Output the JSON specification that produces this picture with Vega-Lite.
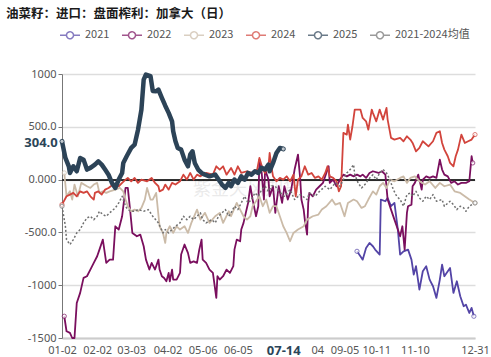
{
  "$schema": "https://vega.github.io/schema/vega-lite/v6.json",
  "width": 413,
  "height": 264,
  "autosize": "none",
  "padding": {"left": 62, "top": 74, "right": 16, "bottom": 19},
  "background": "white",
  "title": {"text": "油菜籽：进口：盘面榨利：加拿大（日）", "anchor": "start", "frame": "group", "dx": -56, "offset": 4, "font": "Noto Sans CJK SC", "fontSize": 12.5, "fontWeight": "bold", "color": "#1a1a1a"},
  "config": {"view": {"stroke": null}},
  "data": {"values": [
    {"s":"2021","d":262,"v":-679},{"s":"2021","d":265,"v":-726},{"s":"2021","d":267,"v":-758},{"s":"2021","d":270,"v":-647},{"s":"2021","d":273,"v":-600},{"s":"2021","d":276,"v":-631},{"s":"2021","d":278,"v":-663},{"s":"2021","d":282,"v":-710},{"s":"2021","d":283,"v":-189},{"s":"2021","d":287,"v":-205},{"s":"2021","d":289,"v":-174},{"s":"2021","d":292,"v":-252},{"s":"2021","d":295,"v":-221},{"s":"2021","d":298,"v":-473},{"s":"2021","d":300,"v":-710},{"s":"2021","d":303,"v":-679},{"s":"2021","d":307,"v":-663},{"s":"2021","d":310,"v":-758},{"s":"2021","d":312,"v":-900},{"s":"2021","d":314,"v":-820},{"s":"2021","d":317,"v":-1041},{"s":"2021","d":320,"v":-868},{"s":"2021","d":323,"v":-820},{"s":"2021","d":326,"v":-947},{"s":"2021","d":329,"v":-1010},{"s":"2021","d":332,"v":-1120},{"s":"2021","d":335,"v":-947},{"s":"2021","d":337,"v":-805},{"s":"2021","d":339,"v":-915},{"s":"2021","d":344,"v":-836},{"s":"2021","d":347,"v":-1073},{"s":"2021","d":350,"v":-963},{"s":"2021","d":353,"v":-1105},{"s":"2021","d":356,"v":-1199},{"s":"2021","d":358,"v":-1184},{"s":"2021","d":361,"v":-1263},{"s":"2021","d":363,"v":-1215},{"s":"2021","d":365,"v":-1294},
    {"s":"2022","d":4,"v":-1294},{"s":"2022","d":6,"v":-1436},{"s":"2022","d":9,"v":-1452},{"s":"2022","d":11,"v":-1500},{"s":"2022","d":13,"v":-1500},{"s":"2022","d":15,"v":-1168},{"s":"2022","d":18,"v":-1073},{"s":"2022","d":21,"v":-931},{"s":"2022","d":24,"v":-915},{"s":"2022","d":27,"v":-852},{"s":"2022","d":30,"v":-789},{"s":"2022","d":33,"v":-726},{"s":"2022","d":35,"v":-663},{"s":"2022","d":38,"v":-568},{"s":"2022","d":41,"v":-789},{"s":"2022","d":44,"v":-758},{"s":"2022","d":47,"v":-758},{"s":"2022","d":49,"v":-442},{"s":"2022","d":52,"v":-473},{"s":"2022","d":55,"v":-347},{"s":"2022","d":58,"v":-79},{"s":"2022","d":60,"v":-79},{"s":"2022","d":62,"v":-284},{"s":"2022","d":64,"v":-505},{"s":"2022","d":68,"v":-537},{"s":"2022","d":71,"v":-521},{"s":"2022","d":74,"v":-631},{"s":"2022","d":76,"v":-758},{"s":"2022","d":79,"v":-852},{"s":"2022","d":81,"v":-789},{"s":"2022","d":84,"v":-852},{"s":"2022","d":87,"v":-758},{"s":"2022","d":88,"v":-852},{"s":"2022","d":90,"v":-915},{"s":"2022","d":92,"v":-931},{"s":"2022","d":94,"v":-963},{"s":"2022","d":96,"v":-884},{"s":"2022","d":97,"v":-963},{"s":"2022","d":99,"v":-852},{"s":"2022","d":100,"v":-947},{"s":"2022","d":103,"v":-947},{"s":"2022","d":106,"v":-884},{"s":"2022","d":107,"v":-710},{"s":"2022","d":110,"v":-615},{"s":"2022","d":113,"v":-694},{"s":"2022","d":115,"v":-789},{"s":"2022","d":118,"v":-774},{"s":"2022","d":121,"v":-789},{"s":"2022","d":123,"v":-663},{"s":"2022","d":125,"v":-568},{"s":"2022","d":126,"v":-758},{"s":"2022","d":129,"v":-789},{"s":"2022","d":132,"v":-852},{"s":"2022","d":135,"v":-884},{"s":"2022","d":138,"v":-1120},{"s":"2022","d":139,"v":-915},{"s":"2022","d":141,"v":-947},{"s":"2022","d":144,"v":-915},{"s":"2022","d":147,"v":-852},{"s":"2022","d":150,"v":-884},{"s":"2022","d":153,"v":-820},{"s":"2022","d":154,"v":-663},{"s":"2022","d":156,"v":-568},{"s":"2022","d":159,"v":-584},{"s":"2022","d":160,"v":-473},{"s":"2022","d":162,"v":-410},{"s":"2022","d":164,"v":-315},{"s":"2022","d":166,"v":-221},{"s":"2022","d":168,"v":-63},{"s":"2022","d":170,"v":-189},{"s":"2022","d":173,"v":-347},{"s":"2022","d":175,"v":-252},{"s":"2022","d":176,"v":189},{"s":"2022","d":178,"v":63},{"s":"2022","d":180,"v":-189},{"s":"2022","d":181,"v":95},{"s":"2022","d":184,"v":0},{"s":"2022","d":185,"v":-158},{"s":"2022","d":188,"v":-63},{"s":"2022","d":190,"v":-315},{"s":"2022","d":193,"v":-63},{"s":"2022","d":196,"v":-221},{"s":"2022","d":198,"v":-63},{"s":"2022","d":201,"v":-189},{"s":"2022","d":204,"v":-95},{"s":"2022","d":207,"v":95},{"s":"2022","d":210,"v":237},{"s":"2022","d":212,"v":0},{"s":"2022","d":213,"v":-189},{"s":"2022","d":215,"v":-284},{"s":"2022","d":216,"v":-379},{"s":"2022","d":218,"v":-521},{"s":"2022","d":219,"v":-221},{"s":"2022","d":220,"v":-126},{"s":"2022","d":223,"v":-158},{"s":"2022","d":226,"v":-95},{"s":"2022","d":229,"v":-63},{"s":"2022","d":232,"v":-31},{"s":"2022","d":235,"v":63},{"s":"2022","d":237,"v":126},{"s":"2022","d":238,"v":-31},{"s":"2022","d":241,"v":0},{"s":"2022","d":244,"v":-63},{"s":"2022","d":247,"v":0},{"s":"2022","d":250,"v":47},{"s":"2022","d":253,"v":31},{"s":"2022","d":256,"v":47},{"s":"2022","d":259,"v":31},{"s":"2022","d":262,"v":47},{"s":"2022","d":265,"v":31},{"s":"2022","d":267,"v":47},{"s":"2022","d":270,"v":16},{"s":"2022","d":273,"v":63},{"s":"2022","d":276,"v":79},{"s":"2022","d":281,"v":63},{"s":"2022","d":284,"v":79},{"s":"2022","d":287,"v":47},{"s":"2022","d":289,"v":-189},{"s":"2022","d":292,"v":-284},{"s":"2022","d":295,"v":-379},{"s":"2022","d":297,"v":-442},{"s":"2022","d":298,"v":-473},{"s":"2022","d":300,"v":-537},{"s":"2022","d":302,"v":-442},{"s":"2022","d":304,"v":-663},{"s":"2022","d":306,"v":-315},{"s":"2022","d":307,"v":-252},{"s":"2022","d":310,"v":-237},{"s":"2022","d":311,"v":-63},{"s":"2022","d":313,"v":-31},{"s":"2022","d":316,"v":47},{"s":"2022","d":319,"v":-95},{"s":"2022","d":320,"v":0},{"s":"2022","d":323,"v":31},{"s":"2022","d":326,"v":16},{"s":"2022","d":329,"v":31},{"s":"2022","d":332,"v":16},{"s":"2022","d":335,"v":189},{"s":"2022","d":337,"v":95},{"s":"2022","d":339,"v":47},{"s":"2022","d":342,"v":31},{"s":"2022","d":345,"v":-31},{"s":"2022","d":348,"v":-16},{"s":"2022","d":351,"v":-47},{"s":"2022","d":354,"v":-31},{"s":"2022","d":358,"v":-31},{"s":"2022","d":361,"v":-16},{"s":"2022","d":363,"v":221},{"s":"2022","d":364,"v":158},
    {"s":"2023","d":4,"v":63},{"s":"2023","d":6,"v":-158},{"s":"2023","d":9,"v":-111},{"s":"2023","d":11,"v":-189},{"s":"2023","d":13,"v":-47},{"s":"2023","d":16,"v":-158},{"s":"2023","d":19,"v":-31},{"s":"2023","d":24,"v":-63},{"s":"2023","d":27,"v":-79},{"s":"2023","d":30,"v":-47},{"s":"2023","d":33,"v":-31},{"s":"2023","d":35,"v":-126},{"s":"2023","d":38,"v":-111},{"s":"2023","d":41,"v":-126},{"s":"2023","d":44,"v":-111},{"s":"2023","d":49,"v":-95},{"s":"2023","d":53,"v":-79},{"s":"2023","d":56,"v":-111},{"s":"2023","d":58,"v":-189},{"s":"2023","d":60,"v":-252},{"s":"2023","d":63,"v":-300},{"s":"2023","d":66,"v":-284},{"s":"2023","d":69,"v":-300},{"s":"2023","d":72,"v":-268},{"s":"2023","d":75,"v":-189},{"s":"2023","d":77,"v":-79},{"s":"2023","d":80,"v":-189},{"s":"2023","d":82,"v":-189},{"s":"2023","d":85,"v":-126},{"s":"2023","d":88,"v":-442},{"s":"2023","d":91,"v":-505},{"s":"2023","d":93,"v":-600},{"s":"2023","d":94,"v":-505},{"s":"2023","d":97,"v":-442},{"s":"2023","d":100,"v":-505},{"s":"2023","d":103,"v":-442},{"s":"2023","d":106,"v":-473},{"s":"2023","d":110,"v":-442},{"s":"2023","d":113,"v":-505},{"s":"2023","d":116,"v":-410},{"s":"2023","d":121,"v":-284},{"s":"2023","d":124,"v":-379},{"s":"2023","d":128,"v":-315},{"s":"2023","d":132,"v":-410},{"s":"2023","d":137,"v":-347},{"s":"2023","d":141,"v":-315},{"s":"2023","d":144,"v":-410},{"s":"2023","d":149,"v":-300},{"s":"2023","d":151,"v":-347},{"s":"2023","d":156,"v":-221},{"s":"2023","d":159,"v":-284},{"s":"2023","d":162,"v":-347},{"s":"2023","d":165,"v":-379},{"s":"2023","d":168,"v":-347},{"s":"2023","d":170,"v":-252},{"s":"2023","d":174,"v":-189},{"s":"2023","d":176,"v":-158},{"s":"2023","d":179,"v":-252},{"s":"2023","d":182,"v":-189},{"s":"2023","d":185,"v":-315},{"s":"2023","d":188,"v":-252},{"s":"2023","d":191,"v":-252},{"s":"2023","d":194,"v":-347},{"s":"2023","d":197,"v":-442},{"s":"2023","d":200,"v":-505},{"s":"2023","d":203,"v":-584},{"s":"2023","d":206,"v":-505},{"s":"2023","d":210,"v":-473},{"s":"2023","d":215,"v":-442},{"s":"2023","d":218,"v":-379},{"s":"2023","d":223,"v":-347},{"s":"2023","d":228,"v":-331},{"s":"2023","d":231,"v":-284},{"s":"2023","d":235,"v":-252},{"s":"2023","d":240,"v":-189},{"s":"2023","d":243,"v":-237},{"s":"2023","d":247,"v":-221},{"s":"2023","d":251,"v":-347},{"s":"2023","d":254,"v":-221},{"s":"2023","d":259,"v":-189},{"s":"2023","d":262,"v":-205},{"s":"2023","d":266,"v":-268},{"s":"2023","d":269,"v":-252},{"s":"2023","d":272,"v":-189},{"s":"2023","d":276,"v":-111},{"s":"2023","d":279,"v":-142},{"s":"2023","d":282,"v":-63},{"s":"2023","d":285,"v":-31},{"s":"2023","d":288,"v":-79},{"s":"2023","d":291,"v":0},{"s":"2023","d":295,"v":-16},{"s":"2023","d":300,"v":16},{"s":"2023","d":303,"v":31},{"s":"2023","d":306,"v":-31},{"s":"2023","d":309,"v":16},{"s":"2023","d":313,"v":31},{"s":"2023","d":317,"v":-16},{"s":"2023","d":322,"v":-47},{"s":"2023","d":326,"v":-16},{"s":"2023","d":331,"v":-79},{"s":"2023","d":335,"v":-31},{"s":"2023","d":339,"v":-63},{"s":"2023","d":344,"v":-47},{"s":"2023","d":348,"v":-111},{"s":"2023","d":353,"v":-126},{"s":"2023","d":357,"v":-158},{"s":"2023","d":361,"v":-189},{"s":"2023","d":366,"v":-221},
    {"s":"2024","d":2,"v":-237},{"s":"2024","d":6,"v":-158},{"s":"2024","d":9,"v":-142},{"s":"2024","d":12,"v":-126},{"s":"2024","d":15,"v":-158},{"s":"2024","d":18,"v":-111},{"s":"2024","d":21,"v":-126},{"s":"2024","d":24,"v":-111},{"s":"2024","d":27,"v":-158},{"s":"2024","d":30,"v":-189},{"s":"2024","d":31,"v":-126},{"s":"2024","d":34,"v":-111},{"s":"2024","d":37,"v":-142},{"s":"2024","d":40,"v":-95},{"s":"2024","d":43,"v":-79},{"s":"2024","d":47,"v":-47},{"s":"2024","d":52,"v":-63},{"s":"2024","d":55,"v":-31},{"s":"2024","d":58,"v":0},{"s":"2024","d":60,"v":16},{"s":"2024","d":63,"v":-16},{"s":"2024","d":66,"v":16},{"s":"2024","d":69,"v":-31},{"s":"2024","d":72,"v":0},{"s":"2024","d":77,"v":-16},{"s":"2024","d":81,"v":16},{"s":"2024","d":84,"v":-31},{"s":"2024","d":87,"v":-63},{"s":"2024","d":88,"v":-111},{"s":"2024","d":91,"v":-95},{"s":"2024","d":93,"v":-47},{"s":"2024","d":96,"v":-95},{"s":"2024","d":99,"v":-31},{"s":"2024","d":102,"v":-47},{"s":"2024","d":106,"v":-16},{"s":"2024","d":109,"v":47},{"s":"2024","d":112,"v":0},{"s":"2024","d":115,"v":63},{"s":"2024","d":118,"v":0},{"s":"2024","d":121,"v":47},{"s":"2024","d":124,"v":31},{"s":"2024","d":129,"v":63},{"s":"2024","d":135,"v":47},{"s":"2024","d":138,"v":126},{"s":"2024","d":141,"v":95},{"s":"2024","d":144,"v":126},{"s":"2024","d":147,"v":47},{"s":"2024","d":151,"v":111},{"s":"2024","d":154,"v":47},{"s":"2024","d":157,"v":126},{"s":"2024","d":160,"v":63},{"s":"2024","d":165,"v":79},{"s":"2024","d":169,"v":63},{"s":"2024","d":174,"v":95},{"s":"2024","d":176,"v":205},{"s":"2024","d":179,"v":95},{"s":"2024","d":181,"v":63},{"s":"2024","d":184,"v":126},{"s":"2024","d":185,"v":252},{"s":"2024","d":187,"v":95},{"s":"2024","d":188,"v":31},{"s":"2024","d":191,"v":-16},{"s":"2024","d":194,"v":16},{"s":"2024","d":197,"v":0},{"s":"2024","d":200,"v":31},{"s":"2024","d":203,"v":-16},{"s":"2024","d":206,"v":47},{"s":"2024","d":208,"v":-158},{"s":"2024","d":210,"v":0},{"s":"2024","d":213,"v":31},{"s":"2024","d":216,"v":126},{"s":"2024","d":219,"v":47},{"s":"2024","d":222,"v":63},{"s":"2024","d":225,"v":16},{"s":"2024","d":228,"v":31},{"s":"2024","d":231,"v":0},{"s":"2024","d":234,"v":63},{"s":"2024","d":236,"v":126},{"s":"2024","d":238,"v":31},{"s":"2024","d":241,"v":16},{"s":"2024","d":244,"v":-16},{"s":"2024","d":246,"v":-111},{"s":"2024","d":248,"v":-63},{"s":"2024","d":250,"v":442},{"s":"2024","d":253,"v":426},{"s":"2024","d":254,"v":521},{"s":"2024","d":256,"v":379},{"s":"2024","d":258,"v":505},{"s":"2024","d":260,"v":663},{"s":"2024","d":265,"v":663},{"s":"2024","d":267,"v":584},{"s":"2024","d":270,"v":552},{"s":"2024","d":272,"v":473},{"s":"2024","d":275,"v":663},{"s":"2024","d":276,"v":632},{"s":"2024","d":279,"v":552},{"s":"2024","d":282,"v":663},{"s":"2024","d":285,"v":568},{"s":"2024","d":288,"v":679},{"s":"2024","d":289,"v":568},{"s":"2024","d":292,"v":395},{"s":"2024","d":295,"v":379},{"s":"2024","d":300,"v":395},{"s":"2024","d":303,"v":363},{"s":"2024","d":306,"v":410},{"s":"2024","d":309,"v":379},{"s":"2024","d":311,"v":347},{"s":"2024","d":314,"v":268},{"s":"2024","d":317,"v":300},{"s":"2024","d":320,"v":363},{"s":"2024","d":325,"v":315},{"s":"2024","d":329,"v":363},{"s":"2024","d":332,"v":442},{"s":"2024","d":335,"v":458},{"s":"2024","d":337,"v":347},{"s":"2024","d":339,"v":284},{"s":"2024","d":342,"v":221},{"s":"2024","d":344,"v":158},{"s":"2024","d":347,"v":126},{"s":"2024","d":349,"v":221},{"s":"2024","d":351,"v":284},{"s":"2024","d":354,"v":426},{"s":"2024","d":357,"v":347},{"s":"2024","d":360,"v":363},{"s":"2024","d":363,"v":379},{"s":"2024","d":366,"v":426},
    {"s":"2021-2024均值","d":2,"v":-252},{"s":"2021-2024均值","d":5,"v":-442},{"s":"2021-2024均值","d":6,"v":-568},{"s":"2021-2024均值","d":9,"v":-615},{"s":"2021-2024均值","d":12,"v":-568},{"s":"2021-2024均值","d":15,"v":-505},{"s":"2021-2024均值","d":18,"v":-473},{"s":"2021-2024均值","d":21,"v":-410},{"s":"2021-2024均值","d":24,"v":-363},{"s":"2021-2024均值","d":27,"v":-347},{"s":"2021-2024均值","d":30,"v":-379},{"s":"2021-2024均值","d":33,"v":-347},{"s":"2021-2024均值","d":35,"v":-300},{"s":"2021-2024均值","d":38,"v":-331},{"s":"2021-2024均值","d":41,"v":-347},{"s":"2021-2024均值","d":44,"v":-315},{"s":"2021-2024均值","d":49,"v":-268},{"s":"2021-2024均值","d":52,"v":-221},{"s":"2021-2024均值","d":55,"v":-158},{"s":"2021-2024均值","d":58,"v":-252},{"s":"2021-2024均值","d":60,"v":-284},{"s":"2021-2024均值","d":63,"v":-300},{"s":"2021-2024均值","d":66,"v":-300},{"s":"2021-2024均值","d":69,"v":-284},{"s":"2021-2024均值","d":74,"v":-300},{"s":"2021-2024均值","d":78,"v":-284},{"s":"2021-2024均值","d":82,"v":-347},{"s":"2021-2024均值","d":87,"v":-410},{"s":"2021-2024均值","d":91,"v":-505},{"s":"2021-2024均值","d":93,"v":-473},{"s":"2021-2024均值","d":96,"v":-505},{"s":"2021-2024均值","d":99,"v":-473},{"s":"2021-2024均值","d":102,"v":-442},{"s":"2021-2024均值","d":106,"v":-410},{"s":"2021-2024均值","d":109,"v":-347},{"s":"2021-2024均值","d":112,"v":-379},{"s":"2021-2024均值","d":115,"v":-347},{"s":"2021-2024均值","d":118,"v":-379},{"s":"2021-2024均值","d":121,"v":-347},{"s":"2021-2024均值","d":124,"v":-315},{"s":"2021-2024均值","d":126,"v":-379},{"s":"2021-2024均值","d":129,"v":-410},{"s":"2021-2024均值","d":134,"v":-379},{"s":"2021-2024均值","d":137,"v":-410},{"s":"2021-2024均值","d":140,"v":-347},{"s":"2021-2024均值","d":143,"v":-315},{"s":"2021-2024均值","d":146,"v":-284},{"s":"2021-2024均值","d":149,"v":-347},{"s":"2021-2024均值","d":151,"v":-315},{"s":"2021-2024均值","d":154,"v":-252},{"s":"2021-2024均值","d":157,"v":-284},{"s":"2021-2024均值","d":160,"v":-221},{"s":"2021-2024均值","d":163,"v":-158},{"s":"2021-2024均值","d":166,"v":-221},{"s":"2021-2024均值","d":169,"v":-189},{"s":"2021-2024均值","d":172,"v":-126},{"s":"2021-2024均值","d":175,"v":-158},{"s":"2021-2024均值","d":178,"v":-95},{"s":"2021-2024均值","d":181,"v":-63},{"s":"2021-2024均值","d":184,"v":-111},{"s":"2021-2024均值","d":187,"v":-60},{"s":"2021-2024均值","d":190,"v":-63},{"s":"2021-2024均值","d":193,"v":-110},{"s":"2021-2024均值","d":198,"v":-158},{"s":"2021-2024均值","d":203,"v":-95},{"s":"2021-2024均值","d":207,"v":-189},{"s":"2021-2024均值","d":212,"v":-142},{"s":"2021-2024均值","d":218,"v":-189},{"s":"2021-2024均值","d":220,"v":-126},{"s":"2021-2024均值","d":225,"v":-158},{"s":"2021-2024均值","d":229,"v":-111},{"s":"2021-2024均值","d":234,"v":-63},{"s":"2021-2024均值","d":238,"v":-95},{"s":"2021-2024均值","d":243,"v":-31},{"s":"2021-2024均值","d":247,"v":-63},{"s":"2021-2024均值","d":250,"v":0},{"s":"2021-2024均值","d":253,"v":63},{"s":"2021-2024均值","d":256,"v":95},{"s":"2021-2024均值","d":259,"v":142},{"s":"2021-2024均值","d":260,"v":47},{"s":"2021-2024均值","d":263,"v":-31},{"s":"2021-2024均值","d":266,"v":-79},{"s":"2021-2024均值","d":269,"v":-47},{"s":"2021-2024均值","d":272,"v":0},{"s":"2021-2024均值","d":276,"v":47},{"s":"2021-2024均值","d":279,"v":0},{"s":"2021-2024均值","d":282,"v":63},{"s":"2021-2024均值","d":285,"v":95},{"s":"2021-2024均值","d":288,"v":63},{"s":"2021-2024均值","d":291,"v":0},{"s":"2021-2024均值","d":294,"v":-95},{"s":"2021-2024均值","d":297,"v":-158},{"s":"2021-2024均值","d":300,"v":-189},{"s":"2021-2024均值","d":303,"v":-252},{"s":"2021-2024均值","d":306,"v":-142},{"s":"2021-2024均值","d":309,"v":-126},{"s":"2021-2024均值","d":311,"v":-158},{"s":"2021-2024均值","d":314,"v":-111},{"s":"2021-2024均值","d":317,"v":-174},{"s":"2021-2024均值","d":320,"v":-205},{"s":"2021-2024均值","d":323,"v":-158},{"s":"2021-2024均值","d":326,"v":-189},{"s":"2021-2024均值","d":329,"v":-142},{"s":"2021-2024均值","d":332,"v":-205},{"s":"2021-2024均值","d":337,"v":-189},{"s":"2021-2024均值","d":339,"v":-252},{"s":"2021-2024均值","d":344,"v":-205},{"s":"2021-2024均值","d":347,"v":-237},{"s":"2021-2024均值","d":350,"v":-284},{"s":"2021-2024均值","d":353,"v":-252},{"s":"2021-2024均值","d":356,"v":-268},{"s":"2021-2024均值","d":358,"v":-300},{"s":"2021-2024均值","d":361,"v":-252},{"s":"2021-2024均值","d":366,"v":-221},
    {"s":"2025","d":2,"v":362},{"s":"2025","d":5,"v":205},{"s":"2025","d":8,"v":126},{"s":"2025","d":9,"v":63},{"s":"2025","d":12,"v":126},{"s":"2025","d":15,"v":79},{"s":"2025","d":18,"v":205},{"s":"2025","d":21,"v":189},{"s":"2025","d":24,"v":95},{"s":"2025","d":27,"v":111},{"s":"2025","d":31,"v":142},{"s":"2025","d":34,"v":173},{"s":"2025","d":37,"v":142},{"s":"2025","d":40,"v":95},{"s":"2025","d":43,"v":47},{"s":"2025","d":46,"v":-31},{"s":"2025","d":49,"v":-79},{"s":"2025","d":52,"v":0},{"s":"2025","d":55,"v":63},{"s":"2025","d":56,"v":158},{"s":"2025","d":59,"v":221},{"s":"2025","d":63,"v":300},{"s":"2025","d":66,"v":331},{"s":"2025","d":69,"v":473},{"s":"2025","d":72,"v":663},{"s":"2025","d":74,"v":947},{"s":"2025","d":76,"v":995},{"s":"2025","d":80,"v":980},{"s":"2025","d":82,"v":840},{"s":"2025","d":85,"v":836},{"s":"2025","d":87,"v":852},{"s":"2025","d":90,"v":774},{"s":"2025","d":93,"v":700},{"s":"2025","d":96,"v":632},{"s":"2025","d":99,"v":552},{"s":"2025","d":100,"v":457},{"s":"2025","d":102,"v":363},{"s":"2025","d":104,"v":300},{"s":"2025","d":107,"v":284},{"s":"2025","d":110,"v":189},{"s":"2025","d":113,"v":126},{"s":"2025","d":115,"v":237},{"s":"2025","d":117,"v":268},{"s":"2025","d":119,"v":158},{"s":"2025","d":122,"v":95},{"s":"2025","d":125,"v":63},{"s":"2025","d":128,"v":47},{"s":"2025","d":132,"v":31},{"s":"2025","d":137,"v":47},{"s":"2025","d":140,"v":0},{"s":"2025","d":143,"v":-47},{"s":"2025","d":146,"v":-79},{"s":"2025","d":149,"v":-31},{"s":"2025","d":151,"v":-63},{"s":"2025","d":154,"v":0},{"s":"2025","d":157,"v":-31},{"s":"2025","d":160,"v":31},{"s":"2025","d":163,"v":0},{"s":"2025","d":166,"v":63},{"s":"2025","d":169,"v":47},{"s":"2025","d":172,"v":79},{"s":"2025","d":175,"v":63},{"s":"2025","d":178,"v":111},{"s":"2025","d":181,"v":95},{"s":"2025","d":184,"v":142},{"s":"2025","d":185,"v":79},{"s":"2025","d":188,"v":158},{"s":"2025","d":191,"v":252},{"s":"2025","d":194,"v":300},{"s":"2025","d":197,"v":290}
  ]},
  "encoding": {
    "x": {"field": "d", "type": "quantitative", "title": null,
      "scale": {"domain": [2, 366], "nice": false, "zero": false},
      "axis": {"values": [2, 33, 63, 95, 126, 157, 197, 227, 251, 279, 313, 366],
        "labelExpr": "datum.value==2?'01-02':datum.value==33?'02-02':datum.value==63?'03-03':datum.value==95?'04-02':datum.value==126?'05-06':datum.value==157?'06-05':datum.value==197?'07-14':datum.value==227?'04':datum.value==251?'09-05':datum.value==279?'10-11':datum.value==313?'11-10':'12-31'",
        "grid": false, "ticks": false, "domainColor": "#cccccc", "domainWidth": 2, "labelPadding": 6,
        "labelFont": "Noto Sans", "labelFlush": false, "labelOverlap": false, "labelBound": false,
        "labelFontSize": {"condition": {"test": "datum.value == 197", "value": 13}, "value": 11},
        "labelFontWeight": {"condition": {"test": "datum.value == 197", "value": "bold"}, "value": "normal"},
        "labelColor": {"condition": {"test": "datum.value == 197", "value": "#2B4558"}, "value": "#555555"}}},
    "y": {"field": "v", "type": "quantitative", "title": null,
      "scale": {"domain": [-1500, 1000], "nice": false, "zero": false},
      "axis": {"values": [-1500, -1000, -500, 0, 500, 1000],
        "labelExpr": "datum.value > 700 ? '1000' : datum.value > 300 ? '500.0' : datum.value > -300 ? '0.000' : datum.value > -700 ? '-500.0' : datum.value > -1200 ? '-1000' : '-1500'",
        "labelOverlap": false, "labelFlush": false, "labelBound": false,
        "grid": true, "gridColor": "#dddddd", "gridWidth": 1.5, "domainColor": "#777777", "tickColor": "#777777", "tickSize": 4,
        "labelPadding": 2, "labelFont": "Noto Sans", "labelFontSize": 11, "labelColor": "#555555"}}
  },
  "layer": [
    {"mark": {"type": "rule", "color": "#333333", "strokeWidth": 1}, "encoding": {"x": null, "y": {"datum": 0}}},
    {"data": {"values": [{"d": 165, "v": -95, "t": "紫金天风期货"}]},
      "mark": {"type": "text", "font": "Noto Sans CJK SC", "fontSize": 18, "color": "#000000", "opacity": 0.08},
      "encoding": {"text": {"field": "t"}}},
    {"transform": [{"filter": "datum.s != '2025' && datum.s != '2021-2024均值'"}],
      "mark": {"type": "line", "strokeWidth": 1.8, "strokeJoin": "round"},
      "encoding": {
        "color": {"field": "s", "type": "nominal",
          "scale": {"domain": ["2021", "2022", "2023", "2024", "2025", "2021-2024均值"], "range": ["#5344A6", "#7A0F5E", "#CBBBA8", "#D2443C", "#2C4357", "#707070"]},
          "legend": {"orient": "none", "legendX": -3, "legendY": -50, "direction": "horizontal", "columns": 6, "title": null,
            "symbolType": "M-1,0L-0.35,0M0.35,0A0.35,0.35 0 1,1 -0.35,0A0.35,0.35 0 1,1 0.35,0M0.35,0L1,0",
            "symbolSize": 400, "symbolStrokeWidth": 1.5, "symbolFillColor": "white", "symbolDash": [1, 0], "labelFont": "Noto Sans CJK SC",
            "labelFontSize": 11, "labelColor": "#555555", "columnPadding": 9, "labelOffset": 4}}
      }},
    {"transform": [{"filter": "datum.s == '2021-2024均值'"}],
      "mark": {"type": "line", "strokeWidth": 1.5, "strokeDash": [2, 2], "strokeJoin": "round"},
      "encoding": {"color": {"field": "s", "type": "nominal"}}},
    {"transform": [{"filter": "datum.s == '2025'"}],
      "mark": {"type": "line", "strokeWidth": 4.5, "strokeJoin": "round", "strokeCap": "round"},
      "encoding": {"color": {"field": "s", "type": "nominal"}}},
    {"transform": [
        {"joinaggregate": [{"op": "min", "field": "d", "as": "dmin"}, {"op": "max", "field": "d", "as": "dmax"}], "groupby": ["s"]},
        {"filter": "datum.d == datum.dmin || datum.d == datum.dmax"}],
      "mark": {"type": "point", "filled": false, "fill": "white", "size": 18, "strokeWidth": 1},
      "encoding": {"color": {"field": "s", "type": "nominal"}}},
    {"data": {"values": [{"d": 2, "v": 350, "t": "304.0"}]},
      "mark": {"type": "text", "dx": -21, "font": "Noto Sans", "fontWeight": "bold", "fontSize": 13, "color": "#2B4558", "align": "center", "baseline": "middle"},
      "encoding": {"text": {"field": "t"}}}
  ]
}
